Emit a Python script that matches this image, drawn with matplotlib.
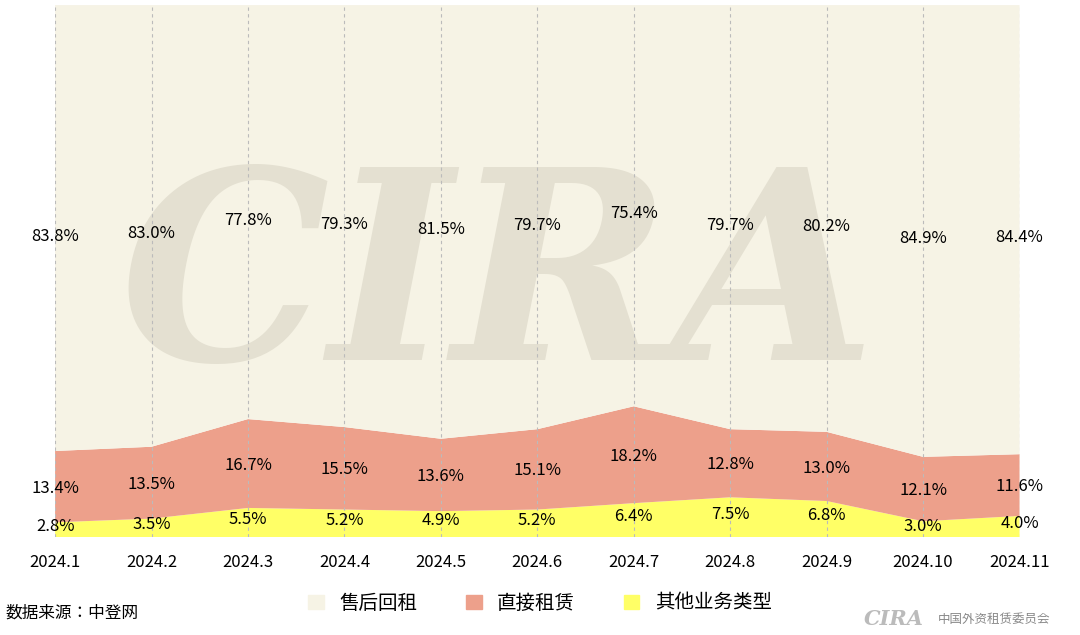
import matplotlib
matplotlib.use("Agg")
import matplotlib.pyplot as plt
import numpy as np

months = ["2024.1","2024.2","2024.3","2024.4","2024.5","2024.6","2024.7","2024.8","2024.9","2024.10","2024.11"]
other = [2.8,3.5,5.5,5.2,4.9,5.2,6.4,7.5,6.8,3.0,4.0]
direct = [13.4,13.5,16.7,15.5,13.6,15.1,18.2,12.8,13.0,12.1,11.6]
leaseback = [83.8,83.0,77.8,79.3,81.5,79.7,75.4,79.7,80.2,84.9,84.4]
series_names = ["售后回租","直接租赁","其他业务类型"]

plt.rcParams["font.family"] = "sans-serif"
plt.rcParams["font.sans-serif"] = ["Noto Sans CJK SC", "Noto Sans CJK JP", "DejaVu Sans"]

fig = plt.figure(figsize=(10.8,6.35), dpi=100)
ax = fig.add_axes([0.051,0.154,0.893,0.838])
x = np.arange(len(months))
o = np.array(other); d = np.array(direct); l = np.array(leaseback)
tot = o+d+l
o_, d_, l_ = o/tot*100, d/tot*100, l/tot*100
c_l, c_d, c_o = "#F6F3E5", "#EDA08B", "#FFFF66"
ax.stackplot(x, o_, d_, l_, colors=[c_o,c_d,c_l], zorder=1)
ax.text(4.6, 47, "CIRA", fontsize=190, fontweight="bold", family="DejaVu Serif",
        color="#E4E0D1", ha="center", va="center", zorder=2, style="italic")
for xi in x:
    ax.axvline(xi, color="#BBBBBB", ls=(0,(3,3)), lw=0.8, zorder=3)
for i in x:
    ax.text(i, o_[i]/2+0.6, f"{other[i]:.1f}%", ha="center", va="center", fontsize=12, zorder=4)
    ax.text(i, o_[i]+d_[i]/2-0.3, f"{direct[i]:.1f}%", ha="center", va="center", fontsize=12, zorder=4)
    ax.text(i, o_[i]+d_[i]+l_[i]/2-1.5, f"{leaseback[i]:.1f}%", ha="center", va="center", fontsize=12, zorder=4)
ax.set_xlim(0, len(months)-1)
ax.set_ylim(0, 100)
ax.set_yticks([])
ax.set_xticks(x)
ax.set_xticklabels(months, fontsize=12)
ax.tick_params(axis="x", length=0, pad=12)
for s in ax.spines.values():
    s.set_visible(False)
from matplotlib.patches import Patch
handles = [Patch(color=c) for c in [c_l,c_d,c_o]]
fig.legend(handles, series_names, loc="center", bbox_to_anchor=(0.5,0.05), ncol=3,
           frameon=False, fontsize=14, handlelength=0.8, handleheight=0.8, columnspacing=2.5)
fig.text(0.005, 0.035, "数据来源：中登网", fontsize=12, va="center")
fig.text(0.8, 0.025, "CIRA", fontsize=15, fontweight="bold", style="italic", family="DejaVu Serif", color="#BBBBBB", va="center")
fig.text(0.868, 0.025, "中国外资租赁委员会", fontsize=9, color="#888888", va="center")
fig.savefig("out.png", dpi=100)
